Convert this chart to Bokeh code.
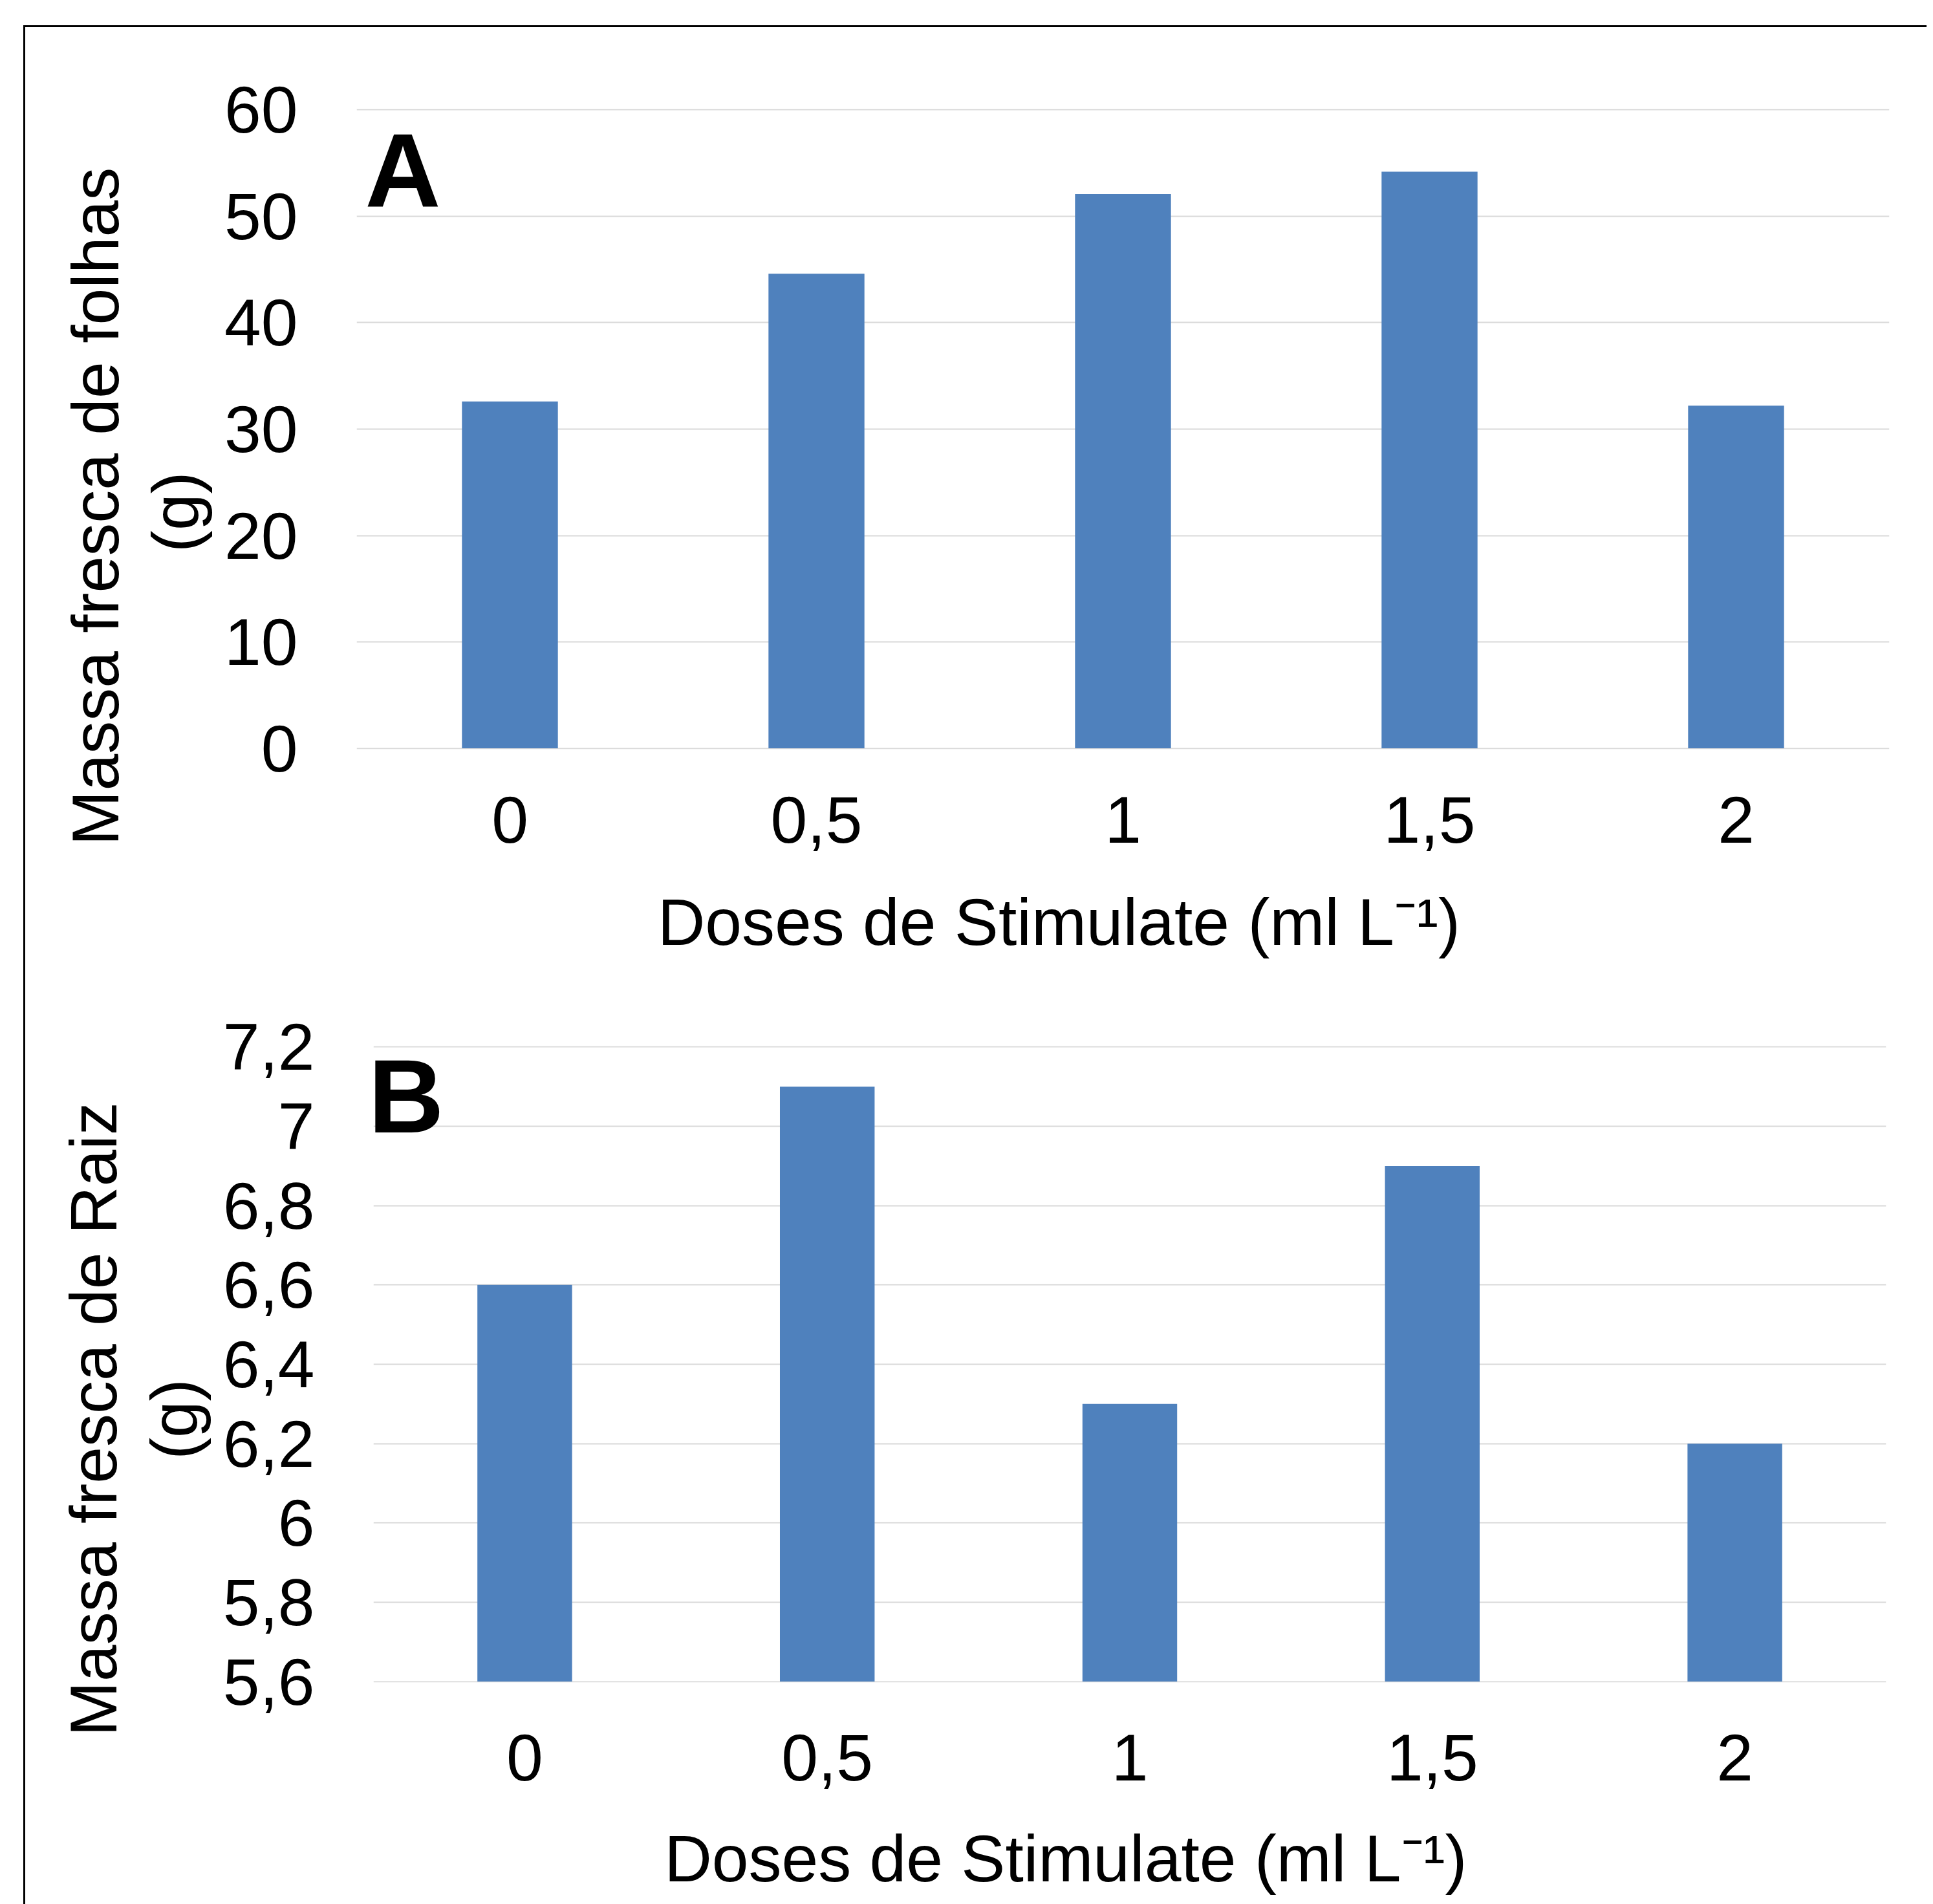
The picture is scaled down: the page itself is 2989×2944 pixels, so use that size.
from bokeh.plotting import figure
from bokeh.models import Label, FixedTicker, Range1d, FactorRange, Spacer, Title
from bokeh.layouts import column, row
from bokeh.embed import file_html
from bokeh.resources import INLINE

# ---- data ----
doses = ["0", "0,5", "1", "1,5", "2"]
folhas = [32.6, 44.6, 52.1, 54.2, 32.2]
raiz = [6.6, 7.1, 6.3, 6.9, 6.2]

ticks_a = [0, 10, 20, 30, 40, 50, 60]
labels_a = ["0", "10", "20", "30", "40", "50", "60"]
ticks_b = [5.6, 5.8, 6.0, 6.2, 6.4, 6.6, 6.8, 7.0, 7.2]
labels_b = ["5,6", "5,8", "6", "6,2", "6,4", "6,6", "6,8", "7", "7,2"]

ylab_a = ["Massa fresca de folhas", "(g)"]
ylab_b = ["Massa fresca de Raiz", "(g)"]
xlab = "Doses de Stimulate (ml L\u207b\u00b9)"
letter_a = "A"
letter_b = "B"

FONT = "Liberation Sans"
FS = "102px"
BAR = "#4f81bd"
GRID = "#d9d9d9"
NBSP = "\u00a0"   # no-break spaces used only to position centred / stacked title lines


def make_panel(vals, ticks, tlabels, y0, y1, w, h, ml, mr, mt, mb, xstand, xlstand,
               ylab, ytitle, xpad, letter, letter_xy):
    pad = (y1 - y0) * 0.0015   # keeps the first/last grid lines inside the frame
    p = figure(x_range=FactorRange(*doses), y_range=Range1d(y0 - pad, y1 + pad),
               width=w, height=h, output_backend="svg", toolbar_location=None,
               min_border_left=ml, min_border_right=mr,
               min_border_top=mt, min_border_bottom=mb)
    p.vbar(x=doses, top=vals, bottom=y0, width=0.313,
           fill_color=BAR, line_color=None)
    p.outline_line_color = None
    p.border_fill_color = "white"
    p.background_fill_color = "white"
    p.xgrid.grid_line_color = None
    p.ygrid.grid_line_color = GRID
    p.ygrid.grid_line_width = 2
    p.yaxis.ticker = FixedTicker(ticks=ticks)
    p.ygrid.ticker = FixedTicker(ticks=ticks)
    p.yaxis.major_label_overrides = {t: l for t, l in zip(ticks, tlabels)}
    p.yaxis.major_label_standoff = 91
    p.xaxis.major_label_standoff = xstand

    kind, amount = ytitle
    if kind == "title":
        # two-line title starting below the frame, second line centred under the first
        lead = NBSP * amount[1]
        t = Title(text=ylab[0] + "\n" + lead + ylab[1], align="left",
                  vertical_align="bottom", offset=amount[0], standoff=30,
                  text_font=FONT, text_font_size=FS, text_font_style="normal",
                  text_color="black", text_line_height=1.09)
        p.add_layout(t, "left")
    else:
        p.yaxis.axis_label = "\n".join(line + NBSP * amount for line in ylab)
        p.yaxis.axis_label_standoff = 15
    p.xaxis.axis_label = xlab + NBSP * xpad
    p.xaxis.axis_label_standoff = xlstand

    for ax in (p.xaxis[0], p.yaxis[0]):
        ax.axis_line_color = None
        ax.major_tick_line_color = None
        ax.minor_tick_line_color = None
        ax.major_tick_out = 0
        ax.major_tick_in = 0
        ax.minor_tick_out = 0
        ax.minor_tick_in = 0
        ax.major_label_text_font = FONT
        ax.major_label_text_font_size = FS
        ax.major_label_text_color = "black"
        ax.axis_label_text_font = FONT
        ax.axis_label_text_font_size = FS
        ax.axis_label_text_font_style = "normal"
        ax.axis_label_text_color = "black"
        ax.axis_label_text_line_height = 1.09

    p.add_layout(Label(x=letter_xy[0], y=letter_xy[1], x_units="screen", y_units="screen",
                       text=letter, text_font=FONT, text_font_size="162px",
                       text_font_style="bold", text_color="black",
                       text_align="left", text_baseline="alphabetic"))
    return p


p1 = make_panel(folhas, ticks_a, labels_a, 0, 60, 2940, 1478, 512, 58, 126, 362, 73, 63,
                ylab_a, ("title", (-149, 16)), 7, letter_a, (13, 896))
p2 = make_panel(raiz, ticks_b, labels_b, 5.6, 7.2, 2914, 1424, 512, 63, 97, 343, 80, 61,
                ylab_b, ("axis", 6), 7, letter_b, (-8, 907))

inner = column(p1, row(Spacer(width=26, height=1424), p2),
               styles={"border-top": "3px solid #000", "border-left": "3px solid #000"})
layout = column(inner, margin=(39, 0, 0, 36))

open("out.html", "w").write(file_html(layout, INLINE))
